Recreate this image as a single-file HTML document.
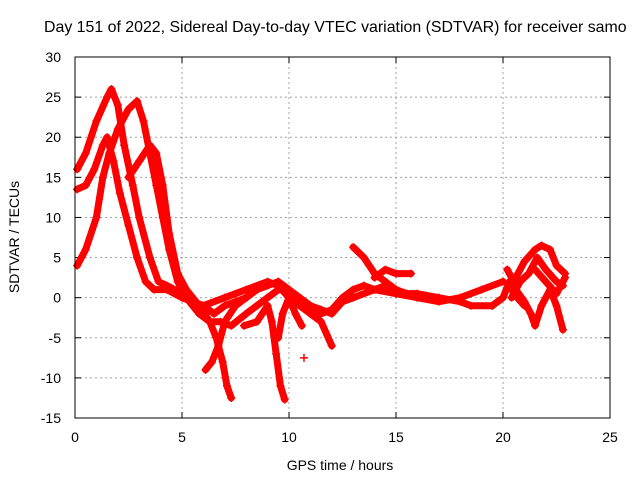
<!DOCTYPE html>
<html><head><meta charset="utf-8"><style>
body{margin:0;background:#fff}
svg{display:block;font-family:"Liberation Sans",sans-serif}
</style></head><body>
<svg id="c" width="640" height="480">
<text x="44" y="32" font-size="15.9">Day 151 of 2022, Sidereal Day-to-day VTEC variation (SDTVAR) for receiver samo</text>
<text x="340" y="470" font-size="14" text-anchor="middle">GPS time / hours</text>
<text transform="translate(19,237) rotate(-90)" font-size="14" text-anchor="middle">SDTVAR / TECUs</text>
<g id="grid"></g><g id="marks"></g>
<rect x="75" y="57" width="535" height="361" fill="none" stroke="#000"/>
</svg>
<script>
const xTicks=[0,5,10,15,20,25];
const yTicks=[-15,-10,-5,0,5,10,15,20,25,30];
const s1=[[0.1,16],[0.5,18],[1,22],[1.5,25],[1.7,26],[2,24],[2.3,19],[2.7,14],[3,10],[3.5,5],[3.9,2],[4.3,1.5],[5,0.5],[5.5,-0.5],[6,-1],[6.5,-2],[7,-1],[7.5,-0.5],[8,0],[8.5,1],[9,1.5],[9.5,2],[10,1],[10.5,-0.5],[11,-1],[11.5,-1.5],[12,-2],[12.5,-0.5],[13,0],[14,1],[15,0.5],[16,0],[17,-0.5],[18,0],[19,1],[20,2]];
const s2=[[0.1,4],[0.5,6],[1,10],[1.3,15],[1.6,18],[2,21],[2.5,23.5],[2.9,24.5],[3.2,22],[3.5,18],[3.8,14],[4.1,10],[4.4,6],[4.8,2],[5.2,0],[5.8,-2],[6.3,-3],[6.8,-3],[7.3,-3.5],[8,-2],[8.5,-1],[9,0],[9.5,1],[10,1],[10.5,0],[11,-1],[11.5,-2],[12,-1.5],[12.5,0],[13,1],[13.5,1.5],[14,1],[14.5,1.5],[15,0.5],[16,0.5],[17,0],[18,-0.5],[18.5,-1],[19.5,-1]];
const s3=[[0.1,13.5],[0.5,14],[0.9,16],[1.3,19],[1.5,20],[1.8,17],[2.1,13],[2.5,9],[2.9,5],[3.3,2],[3.7,1],[4.3,1],[5,0],[6,-1],[7,0],[8,1],[9,2],[9.5,1.5],[10,0],[11,-2],[11.5,-3],[12,-6]];
const s4=[[2.5,15],[3,17],[3.5,19],[3.8,18],[4.1,14],[4.4,8],[4.8,3],[5.2,1],[5.8,-1],[6.3,-3],[6.6,-5],[6.9,-8],[7.1,-11],[7.3,-12.5]];
const s5=[[6.1,-9],[6.4,-8],[6.7,-6],[7,-3],[7.5,-1],[8,0]];
const s6=[[7.9,-3.5],[8.5,-3],[9,-1],[9.2,-3],[9.4,-7],[9.6,-11],[9.8,-12.7]];
const s7=[[9.5,-5],[9.7,-2],[10,0],[10.3,-2],[10.6,-3.5]];
const s8=[[13,6.3],[13.5,5],[14,3],[14.5,2],[15,1],[15.5,0.5],[16,0]];
const s9=[[14,2.5],[14.5,3.5],[15,3],[15.7,3]];
const s10=[[19.5,-1],[20,0],[20.3,2],[20.5,0.5],[21,-1]];
const s11=[[20.2,3.5],[20.5,2],[21,4.5],[21.5,6],[21.8,6.5],[22.2,6],[22.5,4],[22.9,3]];
const s12=[[20.4,0],[20.8,2],[21.2,3],[21.6,5],[22,3.5],[22.5,2],[22.8,1.5]];
const s13=[[20.6,1],[21,-0.5],[21.3,-2],[21.5,-3.5],[21.8,-1],[22.2,1],[22.5,-1],[22.8,-4]];
const s14=[[21.5,3.5],[22,2],[22.5,0.5],[22.9,2.5]];
const s15=[[10.7,-7.5]];
const series=[s1,s2,s3,s4,s5,s6,s7,s8,s9,s10,s11,s12,s13,s14,s15];
const NS="http://www.w3.org/2000/svg";
const X=v=>75+v*535/25, Y=v=>418-(v+15)*361/45;
const g=document.getElementById('grid'), m=document.getElementById('marks');
function mk(p,t,a){const e=document.createElementNS(NS,t);for(const k in a)e.setAttribute(k,a[k]);p.appendChild(e);return e;}
xTicks.forEach(t=>{
 const x=X(t);
 if(t>0&&t<25){const l=mk(g,'line',{x1:x,x2:x,y1:57,y2:418,stroke:'#a0a0a0','stroke-dasharray':'2,3'});
 
 }
 mk(g,'line',{x1:x,x2:x,y1:418,y2:412,stroke:'#000'});mk(g,'line',{x1:x,x2:x,y1:57,y2:63,stroke:'#000'});
 const tx=mk(g,'text',{x:x,y:442,'font-size':14,'text-anchor':'middle'});tx.textContent=t;
 
 
});
yTicks.forEach(t=>{
 const y=Y(t);
 if(t>-15&&t<30){const l=mk(g,'line',{x1:75,x2:610,y1:y,y2:y,stroke:'#a0a0a0','stroke-dasharray':'2,3'});
 
 }
 mk(g,'line',{x1:75,x2:81,y1:y,y2:y,stroke:'#000'});mk(g,'line',{x1:610,x2:604,y1:y,y2:y,stroke:'#000'});
 const tx=mk(g,'text',{x:61,y:y+5,'font-size':14,'text-anchor':'end'});tx.textContent=t;
 
 
});
series.forEach((s,i)=>{
 const pts=s.map(p=>X(p[0])+','+Y(p[1])).join(' ');
 const pl=mk(m,'polyline',{points:pts,fill:'none',stroke:'#f00','stroke-width':7,'stroke-linejoin':'round','stroke-linecap':'round'});
 
 
 s.forEach(p=>{const x=X(p[0]),y=Y(p[1]);
  mk(m,'path',{d:`M${x-4},${y}H${x+4}M${x},${y-4}V${y+4}`,stroke:'#f00','stroke-width':1.5});});
});
</script>
</body></html>
